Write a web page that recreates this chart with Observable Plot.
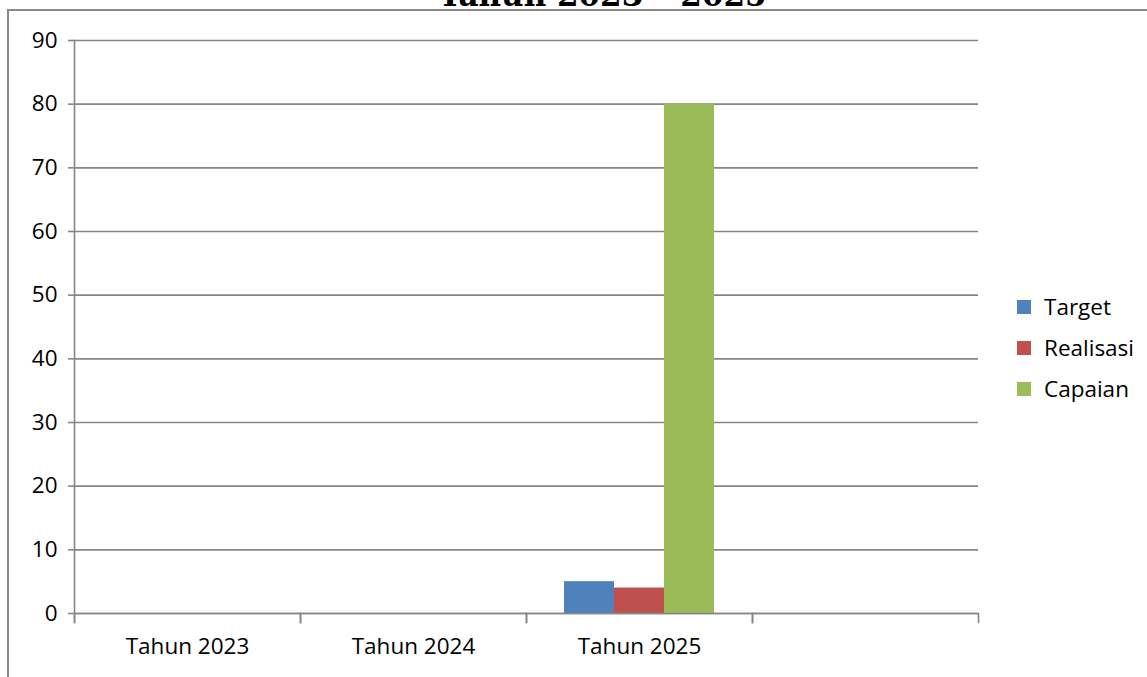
<!DOCTYPE html>
<html>
<head>
<meta charset="utf-8">
<script src="https://cdn.jsdelivr.net/npm/d3@7"></script>
<script src="https://cdn.jsdelivr.net/npm/@observablehq/plot@0.6"></script>
<style>
  html, body { margin: 0; padding: 0; background: #fff; overflow: hidden; }
  #wrap { position: relative; width: 1147px; height: 677px; overflow: hidden; }
  #border { position: absolute; left: 7px; top: 9px; width: 1300px; height: 800px; border: 2px solid #8a8a8a; box-sizing: border-box; }
  #title { position: absolute; left: 0; width: 1205px; top: -23px; text-align: center; font-family: "DejaVu Serif", serif; font-weight: bold; font-size: 31px; color: #000; white-space: nowrap; }
  #chart { position: absolute; left: 0; top: 0; }
  #legend { position: absolute; left: 1017px; top: 286px; font-family: "Open Sans", sans-serif; font-size: 22.5px; color: #000; }
  #legend .row { display: flex; align-items: center; height: 41px; }
  #legend .sw { width: 14px; height: 14px; margin-right: 13px; }
</style>
</head>
<body>
<div id="wrap">
  <div id="border"></div>
  <div id="title">Tahun 2023 – 2025</div>
  <div id="chart"></div>
  <div id="legend"></div>
</div>
<script>
const years = ["Tahun 2023", "Tahun 2024", "Tahun 2025", ""];
const seriesNames = ["Target", "Realisasi", "Capaian"];
const seriesColors = ["#4F81BD", "#C0504D", "#9BBB59"];
const targetValues = [0, 0, 5, null];
const realisasiValues = [0, 0, 4, null];
const capaianValues = [0, 0, 80, null];
const yTicks = [0, 10, 20, 30, 40, 50, 60, 70, 80, 90];

const valuesBySeries = [targetValues, realisasiValues, capaianValues];
const data = [];
years.forEach((yr, i) => {
  seriesNames.forEach((s, j) => {
    data.push({year: yr, series: s, value: valuesBySeries[j][i]});
  });
});

const grey = "#868686";
const chart = Plot.plot({
  width: 1147,
  height: 677,
  marginLeft: 73,
  marginRight: 169,
  marginTop: 40,
  marginBottom: 64,
  style: {fontFamily: "'Open Sans', sans-serif", fontSize: "22.5px", color: "#000", background: "transparent", overflow: "visible"},
  fx: {domain: years, padding: 0, label: null},
  x: {domain: seriesNames, paddingInner: 0, paddingOuter: 0.75, axis: null},
  y: {domain: [0, 90], label: null},
  color: {domain: seriesNames, range: seriesColors},
  marks: [
    Plot.ruleY(data, {fx: "year", y: () => 0, strokeOpacity: 0}),
    Plot.gridY(yTicks, {stroke: grey, strokeOpacity: 1, strokeWidth: 1.6}),
    Plot.frame({anchor: "left", facetAnchor: "left", stroke: grey, strokeWidth: 1.6, insetBottom: -9}),
    Plot.frame({anchor: "left", stroke: grey, strokeWidth: 1.6, insetTop: 573, insetBottom: -9}),
    Plot.frame({anchor: "right", stroke: grey, strokeWidth: 1.6, insetTop: 573, insetBottom: -9}),
    Plot.barY(data, {fx: "year", x: "series", y: "value", fill: "series"}),
    Plot.ruleY([0], {stroke: grey, strokeWidth: 1.6}),
    Plot.axisY(yTicks, {tickSize: 6, tickPadding: 11, stroke: grey, strokeWidth: 1.6, fontSize: 22.5, label: null}),
    Plot.axisFx({anchor: "bottom", tickSize: 0, tickPadding: 25, fontSize: 22.5, label: null})
  ]
});
document.getElementById("chart").appendChild(chart);

const legend = document.getElementById("legend");
seriesNames.forEach((s, i) => {
  const row = document.createElement("div");
  row.className = "row";
  const sw = document.createElement("div");
  sw.className = "sw";
  sw.style.background = seriesColors[i];
  const lab = document.createElement("span");
  lab.textContent = s;
  row.appendChild(sw);
  row.appendChild(lab);
  legend.appendChild(row);
});
</script>
</body>
</html>
